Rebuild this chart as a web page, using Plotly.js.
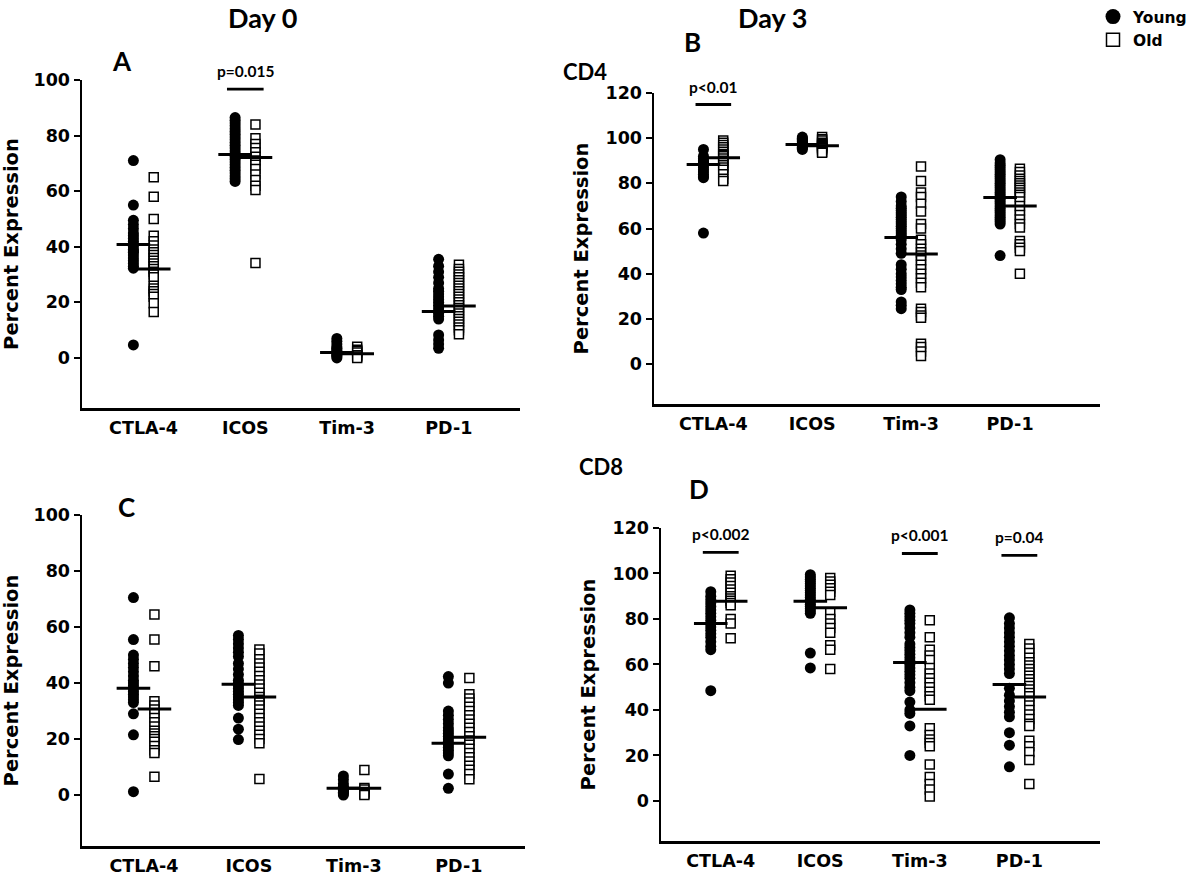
<!DOCTYPE html>
<html><head><meta charset="utf-8">
<script src="https://cdn.plot.ly/plotly-3.0.1.min.js"></script>
<style>html,body{margin:0;padding:0;background:#fff}#chart{width:1200px;height:877px}</style>
</head><body><div id="chart"></div>
<script>
const categories = ["CTLA-4", "ICOS", "Tim-3", "PD-1"];

// Panel A (Day 0, CD4)
const aYoung = [
  [71, 55, 49.5, 48, 46.5, 45, 44, 43, 42, 41, 40, 39, 38.5, 38, 37, 36, 35, 34, 33, 32.3, 4.7],
  [86.5, 85.5, 84.5, 83.5, 82.5, 81.5, 80.5, 79.5, 78.5, 77.5, 76.5, 75.5, 74.5, 73.5, 72.5, 71.5, 70.5, 69.5, 68.5, 67.5, 66.5, 65.5, 64.5, 63.5],
  [7, 6, 5, 4, 3.5, 3, 2.5, 2, 1.5, 1, 0.5, 0],
  [35.5, 33, 31, 29, 27, 25, 24, 23, 22, 21, 20, 19, 18, 17, 16, 15, 14, 8.3, 6.5, 5, 3.5]
];
const aOld = [
  [65, 58, 50, 44, 42, 40.5, 39, 38, 37, 36, 35, 34, 33, 32, 31, 30, 29, 26, 25, 24, 23, 22, 19.7, 16.5],
  [84, 79, 77, 75.5, 74, 72.4, 71, 69.5, 68, 66, 64, 62, 60.4, 34.2],
  [4, 3, 2.5, 2, 1, 0.5, 0],
  [33.5, 32, 31, 30, 29, 28, 27, 26, 25, 24, 23, 22, 21, 20, 19, 18, 17, 16, 15, 14, 13, 12, 11, 10, 8.5]
];
const aYoungMean = [40.8, 73.2, 2, 16.7];
const aOldMean = [32, 72.1, 1.5, 18.7];

// Panel B (Day 3, CD4)
const bYoung = [
  [95, 92, 91, 90, 89.5, 89, 88.5, 88, 87, 86, 85, 84, 83, 82.5, 58],
  [100.5, 100, 99.5, 99, 98.5, 98, 97.5, 97, 96.5, 96, 95.5, 95],
  [74, 72, 70, 69, 68, 67, 66, 65, 64, 63, 62, 61, 60, 59, 58, 57, 55, 53, 51, 49, 44, 42, 40, 38.5, 37, 35.5, 34, 33, 27.5, 26, 24.5],
  [90.5, 89, 88, 87, 86, 85, 84, 83, 82, 81, 80, 79, 78, 77, 76, 75, 74, 73, 72, 71, 70, 69, 68, 67, 66, 65, 64, 63, 62, 48]
];
const bOld = [
  [99, 98, 97, 96, 95, 94, 93, 92.5, 92, 91, 90, 89, 88, 87, 86, 84, 82, 81],
  [100.5, 99.5, 99, 98, 97.5, 97, 96.5, 96, 95.5, 95, 94, 93.5],
  [87.5, 81, 76, 74, 71, 67.5, 62, 60, 55, 53, 51, 49.5, 48, 46, 44, 42, 40, 38, 36, 34, 24.5, 23, 21.5, 20.5, 9, 7.5, 5.5, 3.5],
  [86.5, 85, 83.5, 82, 81, 80, 79, 78, 77, 76, 75, 74, 72, 70, 68, 66, 64, 62, 60.5, 54.5, 53, 51.5, 50, 40]
];
const bYoungMean = [88.3, 97.2, 56, 73.7];
const bOldMean = [91.3, 96.6, 48.7, 70];

// Panel C (Day 0, CD8)
const cYoung = [
  [70.5, 55.5, 50, 48.5, 47, 45.5, 44, 42.5, 41, 40, 39, 38, 37, 36, 35, 34, 33, 29, 21.5, 1.2],
  [57, 55.5, 54, 52.5, 51, 49.5, 47, 45, 43, 41, 40, 39, 38, 37, 36, 35, 34, 33, 32, 27.5, 23.5, 19.8],
  [6.8, 5.5, 4, 3, 2.5, 2, 1.5, 1, 0.5, 0],
  [42.3, 40, 30, 28.5, 27, 25.5, 24, 23, 22, 21, 20, 19, 18, 17, 16, 15, 14, 7.5, 2.4]
];
const cOld = [
  [64.5, 55.5, 46, 33.5, 32, 30.5, 29, 27.5, 26, 24.5, 23, 22, 21, 20, 19, 17.5, 16, 15, 6.5],
  [52, 50.5, 48.5, 47, 45.5, 44, 42.5, 41, 39.5, 38, 36.5, 35, 34, 33, 32, 30.5, 29, 27.5, 26, 24.5, 23, 21.5, 20, 18.5, 5.7],
  [8.9, 2.5, 2, 1, 0.5, 0],
  [41.8, 36, 34.5, 33, 31.5, 30, 28.5, 27, 25.5, 24, 22.5, 21, 19.5, 18, 16.5, 15, 13.5, 12, 10.5, 9, 7.5, 5.6]
];
const cYoungMean = [38.1, 39.6, 2.4, 18.5];
const cOldMean = [30.7, 35, 2.4, 20.6];

// Panel D (Day 3, CD8)
const dYoung = [
  [92, 90, 88.5, 87, 85.5, 84, 82.5, 81, 79.5, 78, 76.5, 75, 73.5, 72, 70, 68, 66.5, 48.5],
  [99.5, 98.5, 97.5, 96.5, 95.5, 94.5, 93.5, 92.5, 91.5, 90.5, 89.5, 88.5, 87.5, 86.5, 85.5, 84.5, 83.5, 82.5, 65, 58.5],
  [84, 82.5, 81, 79.5, 78, 76, 74, 72, 69, 67.5, 66, 64.5, 63, 61.5, 60, 58.5, 57, 55.5, 54, 52, 50, 48.5, 43.5, 40, 38.5, 33, 20],
  [80.5, 78, 76, 74, 72, 70, 68, 66, 64, 62, 60, 58, 56, 49.5, 46.5, 44, 41.5, 39, 37, 30, 24.5, 15]
];
const dOld = [
  [99, 97.5, 96, 94.5, 93, 91.5, 90, 89, 88, 87, 86, 80, 78, 71.5],
  [98, 96.5, 95, 93.5, 92, 90.5, 83, 80, 78, 76, 74, 68.5, 66.5, 58],
  [79.5, 72, 66.5, 64, 62, 58.5, 56, 54, 52, 50, 48, 46, 44.5, 32, 29, 27, 25.5, 24, 16, 10.5, 7.5, 5, 2],
  [69, 67, 65, 63, 61, 59.5, 58, 56.5, 55, 53.5, 52, 50.5, 49, 47.5, 46, 44, 42, 40, 38, 36, 34, 33, 26.5, 24, 21.5, 18, 7.5]
];
const dYoungMean = [78, 87.8, 60.9, 51.2];
const dOldMean = [87.8, 84.9, 40.3, 45.7];

// Significance markers: category index (1-based), bar level, label
const aSigCats = [2];       const aSigY = [96.7];  const aSigText = ["p=0.015"];
const bSigCats = [1];       const bSigY = [114.9]; const bSigText = ["p<0.01"];
const cSigCats = [];        const cSigY = [];      const cSigText = [];
const dSigCats = [1, 3, 4]; const dSigY = [109.3, 108.8, 108]; const dSigText = ["p<0.002", "p<0.001", "p=0.04"];

const W = 1200, H = 877;
const OFF = 0.1;
const tickFont = {family: "DejaVu Sans, Liberation Sans, Arial, sans-serif", size: 17.5, color: "#000", weight: "bold"};
const titleFont = {family: "DejaVu Sans, Liberation Sans, Arial, sans-serif", size: 19.5, color: "#000", weight: "bold"};
const labelFamily = "Lato, Open Sans, sans-serif";

const panels = [
  {xa: "x",  ya: "y",  young: aYoung, old: aOld, ym: aYoungMean, om: aOldMean, sc: aSigCats, sy: aSigY, st: aSigText,
   dx: [82, 520], dy: [80, 408], xr: [0.395, 4.7], yr: [-18, 100], yt: [0, 20, 40, 60, 80, 100]},
  {xa: "x2", ya: "y2", young: bYoung, old: bOld, ym: bYoungMean, om: bOldMean, sc: bSigCats, sy: bSigY, st: bSigText,
   dx: [654, 1100], dy: [93, 404], xr: [0.40, 4.91], yr: [-17.7, 120], yt: [0, 20, 40, 60, 80, 100, 120]},
  {xa: "x3", ya: "y3", young: cYoung, old: cOld, ym: cYoungMean, om: cOldMean, sc: cSigCats, sy: cSigY, st: cSigText,
   dx: [82, 525], dy: [515, 846], xr: [0.41, 4.63], yr: [-18.2, 100], yt: [0, 20, 40, 60, 80, 100]},
  {xa: "x4", ya: "y4", young: dYoung, old: dOld, ym: dYoungMean, om: dOldMean, sc: dSigCats, sy: dSigY, st: dSigText,
   dx: [661, 1100], dy: [528, 841], xr: [0.40, 4.81], yr: [-17.6, 120], yt: [0, 20, 40, 60, 80, 100, 120]}
];

const traces = [];
const shapes = [];
const annotations = [];
const layout = {
  width: W, height: H,
  margin: {l: 0, r: 0, t: 0, b: 0},
  paper_bgcolor: "#fff", plot_bgcolor: "#fff",
  showlegend: true,
  legend: {x: 1093 / W, y: 1, xanchor: "left", yanchor: "top",
           font: {family: "DejaVu Sans, Liberation Sans, Arial, sans-serif", size: 15.5, color: "#000", weight: "bold"},
           bgcolor: "rgba(0,0,0,0)", tracegroupgap: 0, itemwidth: 30}
};

function flatten(groups, off) {
  const xs = [], ys = [];
  groups.forEach((vals, i) => vals.forEach(v => { xs.push(i + 1 + off); ys.push(v); }));
  return {xs, ys};
}

panels.forEach((p, idx) => {
  const suf = idx === 0 ? "" : String(idx + 1);
  const y = flatten(p.young, -OFF), o = flatten(p.old, OFF);
  traces.push({type: "scatter", mode: "markers", xaxis: p.xa, yaxis: p.ya, x: y.xs, y: y.ys, showlegend: false,
    name: "Young", marker: {symbol: "circle", size: 11, color: "#000", line: {width: 0}}, cliponaxis: false});
  traces.push({type: "scatter", mode: "markers", xaxis: p.xa, yaxis: p.ya, x: o.xs, y: o.ys, showlegend: false,
    name: "Old", marker: {symbol: "square", size: 9, color: "#fff", line: {width: 1.5, color: "#000"}}, cliponaxis: false});
  // mean bars
  traces.push({type: "scatter", mode: "markers", xaxis: p.xa, yaxis: p.ya, showlegend: false, hoverinfo: "skip",
    x: categories.map((c, i) => i + 1 - OFF), y: p.ym,
    marker: {symbol: "line-ew", size: 24, line: {width: 3, color: "#000"}}, cliponaxis: false});
  traces.push({type: "scatter", mode: "markers", xaxis: p.xa, yaxis: p.ya, showlegend: false, hoverinfo: "skip",
    x: categories.map((c, i) => i + 1 + OFF), y: p.om,
    marker: {symbol: "line-ew", size: 24, line: {width: 3, color: "#000"}}, cliponaxis: false});
  // significance bars
  p.sc.forEach((c, k) => {
    shapes.push({type: "line", xref: p.xa, yref: p.ya, x0: c - 0.18, x1: c + 0.18, y0: p.sy[k], y1: p.sy[k],
      line: {color: "#000", width: 2.8}});
    annotations.push({xref: p.xa, yref: p.ya, x: c, y: p.sy[k], text: p.st[k], showarrow: false,
      yanchor: "bottom", yshift: 7, font: {family: labelFamily, size: 15.5, color: "#000", weight: "bold"}});
  });
  layout["xaxis" + suf] = {
    domain: [p.dx[0] / W, p.dx[1] / W], anchor: "y" + suf, range: p.xr,
    tickvals: [1, 2, 3, 4], ticktext: categories, ticks: "", tickfont: tickFont, ticklabelstandoff: 2,
    showline: true, linecolor: "#000", linewidth: 2.5, showgrid: false, zeroline: false, fixedrange: true
  };
  layout["yaxis" + suf] = {
    domain: [1 - p.dy[1] / H, 1 - p.dy[0] / H], anchor: "x" + suf, range: p.yr,
    tickvals: p.yt, ticks: "outside", ticklen: 6, tickwidth: 2, tickcolor: "#000", tickfont: tickFont,
    showline: true, linecolor: "#000", linewidth: 2.5, showgrid: false, zeroline: false, fixedrange: true,
    title: {text: "Percent Expression", font: titleFont, standoff: 12}
  };
});

// legend entries
traces.push({type: "scatter", mode: "markers", x: [null], y: [null], name: "Young", showlegend: true,
  marker: {symbol: "circle", size: 15, color: "#000"}});
traces.push({type: "scatter", mode: "markers", x: [null], y: [null], name: "Old", showlegend: true,
  marker: {symbol: "square", size: 13, color: "#fff", line: {width: 1.5, color: "#000"}}});

// panel headers
const headers = [
  {t: "Day 0", x: 262, y: 17, s: 27},
  {t: "Day 3", x: 772, y: 17, s: 27},
  {t: "A", x: 122, y: 61, s: 26},
  {t: "B", x: 692, y: 42, s: 26},
  {t: "CD4", x: 585, y: 72, s: 22},
  {t: "C", x: 126, y: 507, s: 26},
  {t: "CD8", x: 601, y: 466, s: 22},
  {t: "D", x: 699, y: 489, s: 26}
];
headers.forEach(h => annotations.push({xref: "paper", yref: "paper", x: h.x / W, y: 1 - h.y / H,
  xanchor: "center", yanchor: "middle", text: h.t, showarrow: false,
  font: {family: labelFamily, size: h.s, color: "#000", weight: "bold"}}));

layout.shapes = shapes;
layout.annotations = annotations;

Plotly.newPlot("chart", traces, layout, {staticPlot: true, displayModeBar: false});
</script>
</body></html>
